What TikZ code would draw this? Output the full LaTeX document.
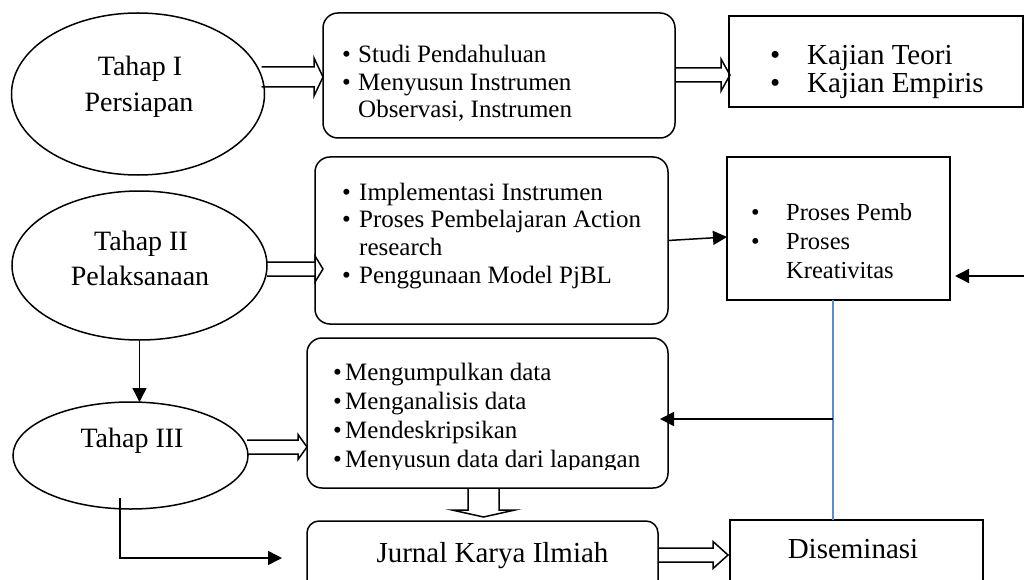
\documentclass[tikz,border=0pt]{standalone}
\usepackage{fontspec}
\setmainfont{Liberation Serif}
\usetikzlibrary{shapes.geometric,arrows.meta,calc}
\definecolor{lineblue}{RGB}{91,141,210}
\tikzset{
  ell/.style={draw, ellipse, line width=1.5pt, inner sep=0pt, outer sep=0pt},
  rbox/.style={draw, rectangle, rounded corners=15pt, line width=1.5pt, inner sep=0pt, outer sep=0pt},
  sbox/.style={draw, rectangle, line width=1.5pt, inner sep=0pt, outer sep=0pt},
  lbl/.style={font=\fontsize{28}{30}\selectfont, inner sep=0pt, anchor=base},
  bigtxt/.style={font=\fontsize{29}{33}\selectfont, inner sep=0pt, anchor=base},
  lst/.style={inner sep=0pt, anchor=base west, align=left},
  thinarrow/.style={line width=1.5pt, -{Triangle[length=14pt,width=14pt]}},
  blk/.style={line width=1.5pt, line join=miter},
}
% block arrow pointing right: from, to, y, shaft half, head half, head length
\newcommand{\blockright}[6]{%
  \draw[blk] let \p1=(#1), \p2=(#2) in
   (\x1,#3+#4) -- (\x2-#6,#3+#4) -- (\x2-#6,#3+#5) -- (\x2,#3)
   -- (\x2-#6,#3-#5) -- (\x2-#6,#3-#4) -- (\x1,#3-#4);}
% block arrow pointing down: from, to, x, shaft half, head half, head length
\newcommand{\blockdown}[6]{%
  \draw[blk] let \p1=(#1), \p2=(#2) in
   (#3-#4,\y1) -- (#3-#4,\y2+#6) -- (#3-#5,\y2+#6) -- (#3,\y2)
   -- (#3+#5,\y2+#6) -- (#3+#4,\y2+#6) -- (#3+#4,\y1);}
\begin{document}
\begin{tikzpicture}[x=1pt,y=1pt]
\useasboundingbox (0,0) rectangle (1024,-580);

% ellipses
\node[ell, minimum width=253pt, minimum height=162pt] (e1) at (138,-94) {};
\node[ell, minimum width=255pt, minimum height=149pt] (e2) at (139.5,-265.5) {};
\node[ell, minimum width=235pt, minimum height=107pt] (e3) at (130.5,-455.5) {};
\node[lbl] (t1a) at (140,-76) {Tahap I};
\node[lbl] (t1b) at (139,-112) {Persiapan};
\node[lbl] (t2a) at (141,-250) {Tahap II};
\node[lbl] (t2b) at (140,-285) {Pelaksanaan};
\node[lbl] (t3a) at (132,-447) {Tahap III};

% boxes
\node[rbox, minimum width=352pt, minimum height=125pt] (b1) at (499,-75.5) {};
\node[sbox, minimum width=294pt, minimum height=91pt] (b2) at (876,-61.5) {};
\node[rbox, minimum width=353pt, minimum height=167pt] (b3) at (491.5,-240.5) {};
\node[sbox, minimum width=223pt, minimum height=143pt] (b4) at (838.5,-228.5) {};
\node[rbox, minimum width=361pt, minimum height=150pt] (b5) at (487.5,-413) {};
\node[rbox, rounded corners=12pt, minimum width=351pt, minimum height=76pt] (b6) at (482.5,-559) {};
\node[sbox, minimum width=253pt, minimum height=76pt] (b7) at (856.5,-558) {};

% list texts
\node[lst, font=\fontsize{25}{27.5}\selectfont] (l1) at (342,-63)
  {\begin{tabular}[t]{@{}p{16pt}@{}l@{}}\textbullet & Studi Pendahuluan\\
   \textbullet & Menyusun Instrumen\\ & Observasi, Instrumen\end{tabular}};
\node[lst, font=\fontsize{29}{27.5}\selectfont] (l2) at (770,-65)
  {\begin{tabular}[t]{@{}p{37pt}@{}l@{}}\textbullet & Kajian Teori\\
   \textbullet & Kajian Empiris\end{tabular}};
\node[lst, font=\fontsize{25}{27.7}\selectfont] (l3) at (342,-200)
  {\begin{tabular}[t]{@{}p{17pt}@{}l@{}}\textbullet & Implementasi Instrumen\\
   \textbullet & Proses Pembelajaran Action\\ & research\\
   \textbullet & Penggunaan Model PjBL\end{tabular}};
\node[lst, font=\fontsize{24.5}{29}\selectfont] (l4) at (751,-220)
  {\begin{tabular}[t]{@{}p{35pt}@{}l@{}}\textbullet & Proses Pemb\\
   \textbullet & Proses\\ & Kreativitas\end{tabular}};
\begin{scope}
\clip (300,-330) rectangle (680,-469);
\node[lst, font=\fontsize{25}{29}\selectfont] (l5) at (333,-380)
  {\begin{tabular}[t]{@{}p{12pt}@{}l@{}}\textbullet & Mengumpulkan data\\
   \textbullet & Menganalisis data\\ \textbullet & Mendeskripsikan\\
   \textbullet & Menyusun data dari lapangan\end{tabular}};
\end{scope}
\node[bigtxt] (t6) at (492.5,-562) {Jurnal Karya Ilmiah};
\node[bigtxt] (t7) at (853,-558) {Diseminasi};

% block arrows
\blockright{[xshift=-3pt]e1.east}{b1.west}{-77}{10}{19}{9}
\blockright{b1.east}{[xshift=1pt]b2.west}{-75}{7}{16}{9}
\blockright{e2.east}{[xshift=8pt]b3.west}{-269}{7}{13}{8}
\blockright{[xshift=-1pt]e3.east}{b5.west}{-447}{7}{12.5}{9}
\blockdown{b5.south}{[yshift=4pt]b6.north}{483.5}{15.5}{31.5}{7}
\blockright{b6.east}{[xshift=-2pt]b7.west}{-555}{7}{13.5}{15}

% thin arrows
\draw[thinarrow] (e2.south) -- (e2.south |- e3.north);
\coordinate (es) at (120,-498);
\coordinate (ee) at (282,-558);
\draw[thinarrow] (es) |- (ee);
\draw[thinarrow] (b3.east) -- ([yshift=-8.5pt]b4.west);
\coordinate (rin) at (1026,-276);
\draw[thinarrow, shorten >=5pt] (rin) -- (b4.east |- rin);
\coordinate (bl) at (833,-419);
\draw[lineblue, line width=1.2pt] (b4.south -| bl) -- (b7.north -| bl);
\draw[thinarrow, shorten >=-8pt] (bl) -- (b5.east |- bl);
\end{tikzpicture}
\end{document}
